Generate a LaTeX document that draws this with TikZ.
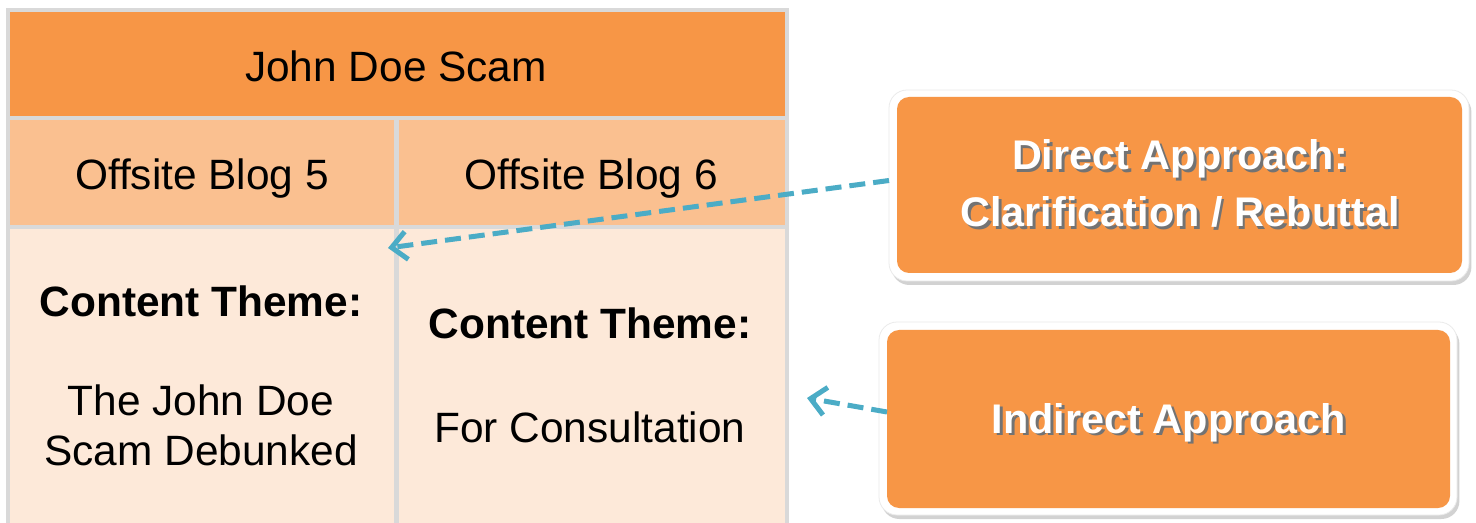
\documentclass[tikz,border=0pt]{standalone}
\usepackage{fontspec}
\setmainfont{Liberation Sans}
\usetikzlibrary{arrows.meta,shadows,fit}
\definecolor{hdr}{HTML}{F79646}
\definecolor{mid}{HTML}{FAC090}
\definecolor{low}{HTML}{FDE9D9}
\definecolor{gridc}{HTML}{D9D9D9}
\definecolor{arr}{HTML}{4BACC6}
\newcommand\shd[1]{\makebox[0pt][l]{\hspace{1.4pt}\raisebox{-1.4pt}{\textcolor{black!55}{#1}}}#1}
\begin{document}
\begin{tikzpicture}[x=0.5pt,y=-0.5pt,
 cell/.style={draw=none, inner sep=0pt, outer sep=0pt},
 txt/.style={font=\fontsize{21.2}{25}\selectfont, anchor=base, inner sep=0pt, align=center},
 btxt/.style={txt, font=\fontsize{21.2}{25}\selectfont\bfseries},
 wtxt/.style={font=\fontsize{20.7}{28.5}\selectfont\bfseries, text=white, anchor=base, inner sep=0pt, align=center},
 frame/.style={cell, fill=white, draw=black!8, line width=0.4pt, rounded corners=9pt, drop shadow={shadow xshift=1.2pt, shadow yshift=-2pt, opacity=0.35}},
 inbox/.style={cell, fill=hdr, rounded corners=6pt},
 conn/.style={draw=arr, line width=2.5pt, dash pattern=on 8pt off 4pt, -{Straight Barb[length=7.5pt,width=14pt]}}
]
\useasboundingbox[fill=white] (0,0) rectangle (1476,523);
% table
\node[cell, fill=gridc, fit={(6,8)(789,523)}] (table) {};
\node[cell, fill=hdr, fit={(10,12)(785,116)}] (head) {};
\node[cell, fill=mid, fit={(10,120)(394,225)}] (b5) {};
\node[cell, fill=mid, fit={(399,120)(785,225)}] (b6) {};
\node[cell, fill=low, fit={(10,229)(394,523)}] (c5) {};
\node[cell, fill=low, fit={(399,229)(785,523)}] (c6) {};
\node[txt] (t0) at (396,82) {John Doe Scam};
\node[txt] (t5) at (202,190) {Offsite Blog 5};
\node[txt] (t6) at (591,190) {Offsite Blog 6};
\node[btxt] (h5) at (201,317) {Content Theme:};
\node[btxt] (h6) at (590,338) {Content Theme:};
\node[txt] (s5) at (201,465) {The John Doe\\Scam Debunked};
\node[txt] (s6) at (590,442) {For Consultation};
% boxes
\node[frame, fit={(889,90)(1469,281)}] (dframe) {};
\node[inbox, fit={(897,97)(1462,273)}] (dbox) {};
\node[wtxt] (dt) at (1180,227) {\shd{Direct Approach:}\\\shd{Clarification / Rebuttal}};
\node[frame, fit={(879,322)(1457,515)}] (iframe) {};
\node[inbox, fit={(887,330)(1450,508)}] (ibox) {};
\node[wtxt] (it) at (1169,433) {\shd{Indirect Approach}};
% arrows
\coordinate (tip1) at (388,248);
\coordinate (tip2) at (807,398);
\draw[conn] ([yshift=2.5pt]dframe.west) -- (tip1);
\draw[conn] ([yshift=3.5pt]ibox.west) -- (tip2);
\end{tikzpicture}
\end{document}
